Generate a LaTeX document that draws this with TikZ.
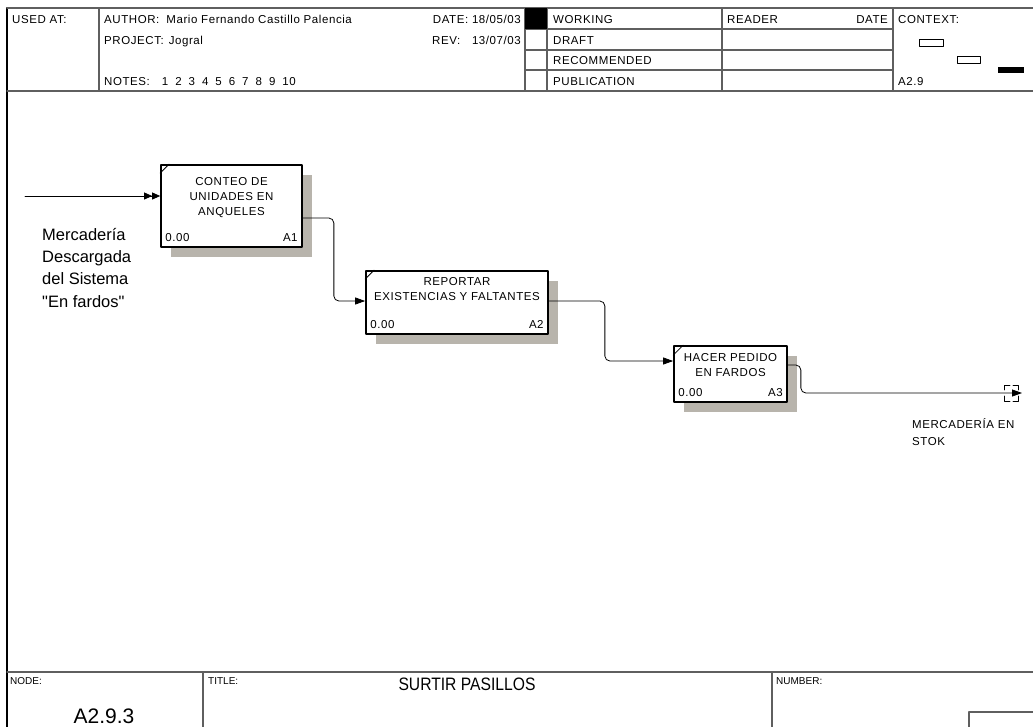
\documentclass[tikz,border=0pt]{standalone}
\usepackage{graphicx}
\usepackage{fontspec}
\setmainfont{Liberation Sans}
\newfontfamily\razr{Liberation Sans}[LetterSpace=5.0]
\usetikzlibrary{arrows.meta,calc,shadows}
\definecolor{tenj}{RGB}{184,180,172}
\definecolor{setka}{RGB}{95,95,95}

\begin{document}
\begin{tikzpicture}[
  x=1pt, y=-1pt,
  line cap=round,
  line join=round,
  txt/.style={inner sep=0pt, font=\razr\fontsize{11.5}{15}\selectfont},
  lbl/.style={inner sep=0pt, font=\fontsize{10}{12}\selectfont},
  big/.style={inner sep=0pt, font=\fontsize{18}{22}\selectfont},
  grid/.style={draw=setka, line width=1.3pt},
  func/.style={draw, line width=1.7pt, fill=white, inner sep=0pt,
    drop shadow={shadow xshift=10pt, shadow yshift=-10pt, fill=tenj, opacity=1}},
  flow/.style={line width=0.8pt, rounded corners=5pt,
    -{Triangle[length=10pt,width=7pt]}}
]
  \clip (0,0) rectangle (1033,726);
  \useasboundingbox (0,0) rectangle (1033,726);

  % Рамка и шапка бланка
  \draw[line width=2pt] (7,8) -- (7,730);
  \draw[grid] (7,8) -- (1040,8);
  \draw[grid] (7,91) -- (1040,91);
  \draw[grid] (99,8) -- (99,91);
  \draw[grid] (525,8) -- (525,91);
  \draw[grid] (547,8) -- (547,91);
  \draw[grid] (722,8) -- (722,91);
  \draw[grid] (893,8) -- (893,91);
  \draw[grid] (525,29) -- (893,29);
  \draw[grid] (525,50) -- (893,50);
  \draw[grid] (525,70) -- (893,70);
  \fill (525,8) rectangle (547,29);

  % Тексты шапки
  \node[txt, anchor=base west] (usedat) at (12,23) {USED AT:};
  \node[txt, anchor=base west] (author) at (104,23)
    {AUTHOR:\hspace{7pt}Mario Fernando Castillo Palencia};
  \node[txt, anchor=base west] (project) at (104,44) {PROJECT:\hspace{5pt}Jogral};
  \node[txt, anchor=base west] (notes) at (104,85)
    {NOTES:\hspace{12pt}1\hspace{7pt}2\hspace{7pt}3\hspace{7pt}4\hspace{7pt}5%
     \hspace{7pt}6\hspace{7pt}7\hspace{7pt}8\hspace{7pt}9\hspace{7pt}10};
  \node[txt, anchor=base east] (date) at (521,23) {DATE:\ 18/05/03};
  \node[txt, anchor=base west] (rev) at (432,44) {REV:};
  \node[txt, anchor=base east] (revdate) at (521,44) {13/07/03};
  \node[txt, anchor=base west] (working) at (553,23) {WORKING};
  \node[txt, anchor=base west] (draft) at (553,44) {DRAFT};
  \node[txt, anchor=base west] (recom) at (553,64) {RECOMMENDED};
  \node[txt, anchor=base west] (publ) at (553,85) {PUBLICATION};
  \node[txt, anchor=base west] (reader) at (727,23) {READER};
  \node[txt, anchor=base east] (rdate) at (888,23) {DATE};
  \node[txt, anchor=base west] (context) at (898,23) {CONTEXT:};
  \node[txt, anchor=base west] (ctxnode) at (898,85) {A2.9};

  % Схема контекста
  \draw[line width=0.8pt] (919,39) rectangle (943,46);
  \draw[line width=0.8pt] (957,56) rectangle (980,63);
  \fill (998,67) rectangle (1024,73);

  % Блоки
  \node[func, minimum width=141pt, minimum height=82pt] (a1) at (231.5,206) {};
  \node[func, minimum width=182pt, minimum height=63pt] (a2) at (457,302.5) {};
  \node[func, minimum width=113pt, minimum height=56pt] (a3) at (730.5,374) {};

  \node[txt, align=center] (a1t) at (231.5,198)
    {CONTEO DE\\UNIDADES EN\\ANQUELES};
  \node[txt, align=center] (a2t) at (457,289.5)
    {REPORTAR\\EXISTENCIAS Y FALTANTES};
  \node[txt, align=center] (a3t) at (730.5,365)
    {HACER PEDIDO\\EN FARDOS};

  \node[txt, anchor=base west] (a1n) at ($(a1.south west)+(5,-6)$) {0.00};
  \node[txt, anchor=base east] (a1k) at ($(a1.south east)+(-5,-6)$) {A1};
  \node[txt, anchor=base west] (a2n) at ($(a2.south west)+(5,-6)$) {0.00};
  \node[txt, anchor=base east] (a2k) at ($(a2.south east)+(-5,-6)$) {A2};
  \node[txt, anchor=base west] (a3n) at ($(a3.south west)+(5,-6)$) {0.00};
  \node[txt, anchor=base east] (a3k) at ($(a3.south east)+(-5,-6)$) {A3};

  % Уголки блоков
  \draw[line width=0.8pt] ($(a1.north west)+(0,9)$) -- ($(a1.north west)+(9,0)$);
  \draw[line width=0.8pt] ($(a2.north west)+(0,9)$) -- ($(a2.north west)+(9,0)$);
  \draw[line width=0.8pt] ($(a3.north west)+(0,10)$) -- ($(a3.north west)+(10,0)$);

  % Стрелки
  \coordinate (vhod) at (25,196);
  \coordinate (a1out) at ($(a1.east)+(0,12)$);
  \coordinate (a2in) at ($(a2.west)+(0,-1.5)$);
  \coordinate (a2out) at ($(a2.east)+(0,-1.5)$);
  \coordinate (a3in) at ($(a3.west)+(0,-13)$);
  \coordinate (a3out) at ($(a3.east)+(0,-9)$);
  \coordinate (vyhod) at (1022,393);

  \draw[line width=0.8pt,
    -{Triangle[length=8pt,width=7pt]Triangle[length=8pt,width=7pt]}]
    (vhod) -- (vhod -| a1.west);
  \draw[flow] (a1out) -- ++(31,0) |- (a2in);
  \draw[flow] (a2out) -- ++(56,0) |- (a3in);
  \draw[flow] (a3out) -- ++(13,0) |- (vyhod);

  % Туннель на выходе
  \draw[line width=0.8pt] ($(vyhod)+(-18,-3)$) -- ++(0,-5) -- ++(6,0);
  \draw[line width=0.8pt] ($(vyhod)+(-9,-8)$) -- ++(5,0) -- ++(0,5);
  \draw[line width=0.8pt] ($(vyhod)+(-18,3)$) -- ++(0,5) -- ++(6,0);
  \draw[line width=0.8pt] ($(vyhod)+(-9,8)$) -- ++(5,0) -- ++(0,-5);

  % Подписи стрелок
  \node[anchor=north west, inner sep=0pt, align=left,
    font=\fontsize{16.5}{22.3}\selectfont] (vhodtxt) at (42,228)
    {Mercadería\\Descargada\\del Sistema\\\textquotedbl En fardos\textquotedbl};
  \node[txt, anchor=north west, align=left, font=\razr\fontsize{11.5}{17}\selectfont]
    (vyhodtxt) at (912,418) {MERCADERÍA EN\\STOK};

  % Нижняя часть бланка
  \draw[grid] (7,672) -- (1040,672);
  \draw[grid] (203,672) -- (203,730);
  \draw[grid] (772,672) -- (772,730);
  \draw[grid] (969,730) -- (969,712) -- (1040,712);

  \node[lbl, anchor=base west] (nodelbl) at (10,684) {NODE:};
  \node[lbl, anchor=base west] (titlelbl) at (208,684) {TITLE:};
  \node[lbl, anchor=base west] (numlbl) at (776,684) {NUMBER:};
  \node[big] (title) at (467,684) {\scalebox{0.87}[1]{SURTIR PASILLOS}};
  \node[big, font=\fontsize{21}{24}\selectfont] (nodenum) at (104,716) {A2.9.3};
\end{tikzpicture}
\end{document}
